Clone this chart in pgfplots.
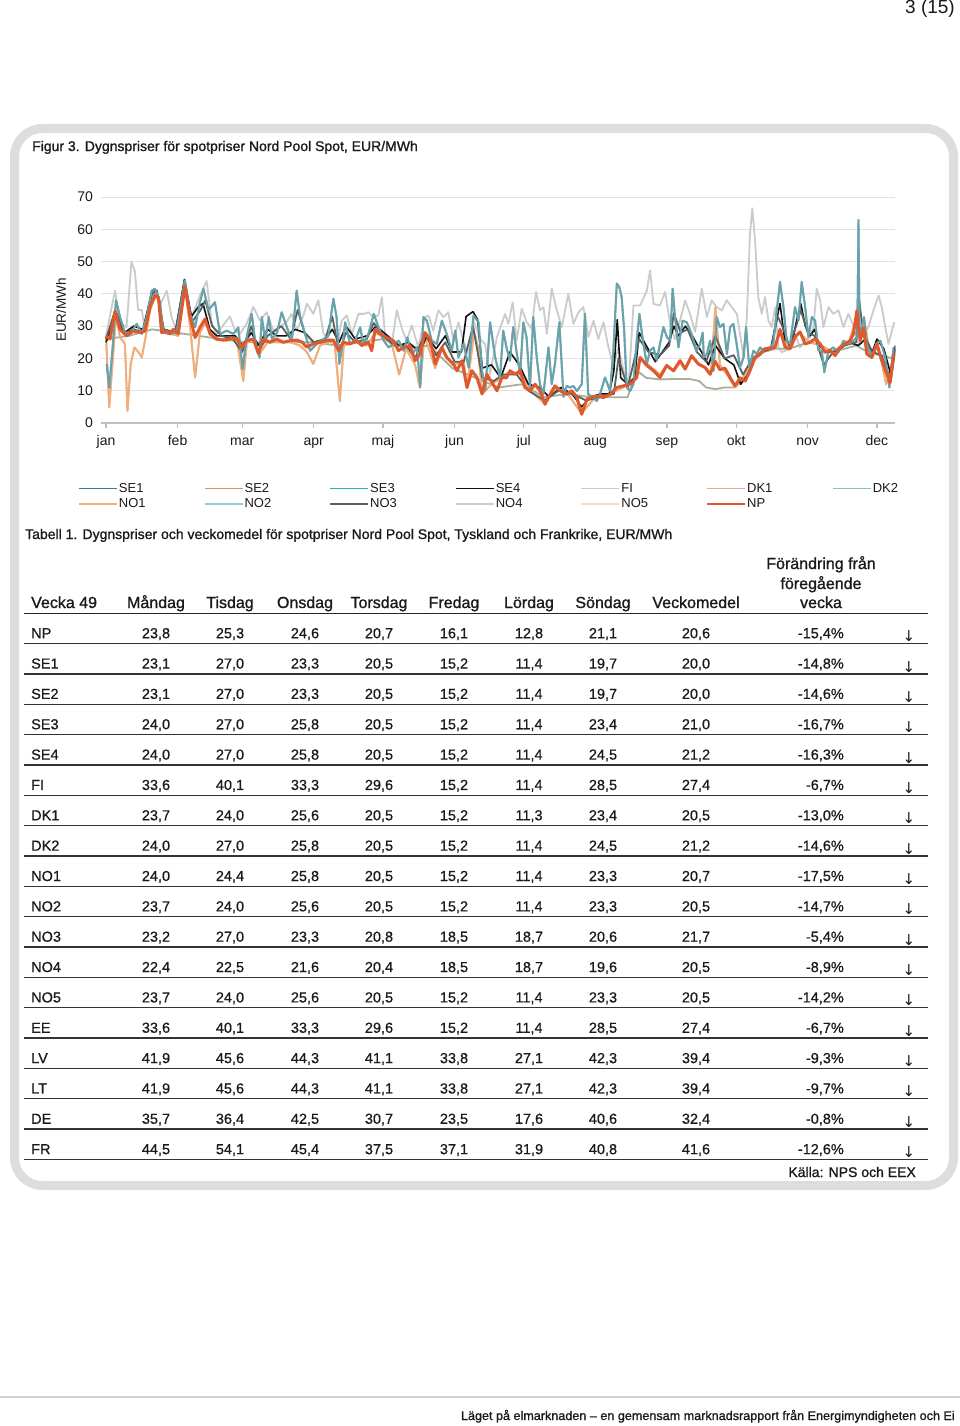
\documentclass[border=0pt]{standalone}
\usepackage{fontspec}
\setmainfont{Liberation Sans}
\newfontfamily\semib{Liberation Sans}[FakeBold=1.1]
\newfontfamily\medium{Liberation Sans}[FakeBold=0.6]
\newfontfamily\arrowfont{DejaVu Sans}
\usepackage{pgfplots}
\usepackage{pgfplotstable}
\pgfplotsset{compat=1.18}

\definecolor{cSEone}{HTML}{2A7F9E}
\definecolor{cSEtwo}{HTML}{E8914A}
\definecolor{cSEthree}{HTML}{2BB0C6}
\definecolor{cSEfour}{HTML}{111111}
\definecolor{cFI}{HTML}{CBCBCB}
\definecolor{cDKone}{HTML}{EBA593}
\definecolor{cDKtwo}{HTML}{7CC5C5}
\definecolor{cNOone}{HTML}{F1AE76}
\definecolor{cNOtwo}{HTML}{8ECFD6}
\definecolor{cNOthree}{HTML}{5A5F5F}
\definecolor{cNOfour}{HTML}{A9AD9C}
\definecolor{cNOfive}{HTML}{F4DCC8}
\definecolor{cNP}{HTML}{DE5A2E}
\definecolor{txt}{HTML}{1A1A1A}

% NP
\pgfplotstableread{
x y
0 27
1.7 26
3.9 34.5
6.1 29
8.9 27
11.8 28.5
14.7 28
16.9 28.5
19.1 36
21.2 39.5
22.7 39
24.1 28
26.3 28.5
27.7 27.6
29.2 29
31.3 27.6
34.2 42.5
36.4 32.8
38.6 26.5
40.7 29.6
42.9 32.2
45.1 27.6
47.9 26
50.8 25.7
53.7 26
56.6 26.3
58.8 23.4
60.9 25.5
63.8 26
66 21.6
68.2 26
71 25
73.9 26
76.8 25
79.7 25.5
82.6 25.7
85 25
87 23.5
89.8 24.5
92.7 25
95.6 25.5
98.5 25.7
100.7 22.4
102.8 25
105.7 24.5
108.6 25.5
110.8 24
113.7 25
115.1 22.4
116.6 29
118.7 27.6
121.6 26.5
124.5 25.5
126.7 22.4
128.8 23.4
131.7 24
133.9 19.3
136.1 21.4
138.2 28
140.4 26
142.6 18.3
145.5 23.4
147.6 20.3
150.5 18.3
152 16.2
154.2 19.3
156.4 11
158.5 16.2
160.7 14.1
162.9 9
165 15.1
167.2 12.5
169.4 10
171.5 14.1
173.5 14
175 16.2
177.2 15.1
179.4 16.2
181.5 11
183.7 10
185.9 12
188 10
190.2 5.8
192.4 8.9
194.5 11.5
196.7 10
199.6 8.9
201.8 10
204 7.9
206.1 2.7
208.3 7.4
210.4 7.9
212.6 8.4
215.5 7.9
218.4 8.9
221.3 11
224.2 11.5
227 12
229.9 14.1
231.4 20.3
234.3 17.8
237.2 16.2
240 14.1
242.9 17.8
245.8 16.2
248.7 19.3
250.9 16.7
253.7 20.8
256.6 18.3
259.5 17.2
261.7 15.1
263.9 19.1
266 16.5
268.2 17
270.4 14
272.5 11.5
274.7 14
276.9 13
279 16.2
281.2 20.3
283.4 21.4
285.5 23
287.7 23
289.9 23.5
292 29
294.2 23.5
296.4 23
298.5 26.6
300.7 28.2
302.9 24.5
305 25
307.2 26.1
309.4 24.5
311.5 21.9
313.7 22.4
315.9 20.9
318 23.5
320.2 24.5
322.4 25.5
323.8 27.6
325.3 34.8
326.7 25.5
328.2 29.5
329.6 21.4
331.8 20.3
334 24.5
336.1 19.3
338.3 15.1
339.7 12.5
341.2 21.4
}\dNP

% teal (SE1 / SE3 / DK2)
\pgfplotstableread{
x y
0.3 18.3
1.4 11
3 24.5
4.3 38
6.1 32.8
8.2 28
10.4 27.6
13.3 30.7
15.5 27.6
17.6 32.8
19.8 41
21.2 41.6
23.4 37.4
24.8 28
27.7 27.6
30.6 28
34.2 44.2
36.4 33.8
38.6 29.7
40.7 37.4
42.2 41.6
44.4 35
47.2 37.4
49.4 27.6
52.3 28.6
55.2 27.6
57.3 29.6
59.2 16.7
60.9 26.5
63.1 33.8
64.6 25.5
66.5 20.3
67.5 32.8
69 25.5
70.5 32.8
71.9 26
74.1 28
76.1 34.3
78.4 29.6
80.5 25.5
82.6 41
84 33.3
86.2 27.6
88.4 22.4
91.3 24.5
94.2 26
96.3 27
98.5 38.5
99.9 32.8
101.1 18.3
102.8 26
103.6 31.2
105.7 24.5
107.9 25.5
110.1 29.6
111.5 24.5
113.7 27.6
116 33.8
118.1 29.6
120.3 25.5
122.5 23.4
124.6 24.5
126.8 25.5
129 22.4
130.5 26.5
132.6 21.4
134.8 23.4
136.1 11
137.5 32.8
139 31.7
141.1 25.5
143.3 24.5
145.5 31.7
147.6 27.6
149.8 22.4
151.3 28.6
152.7 20.3
154.9 24.5
157.1 17.2
159.2 33.3
161.4 31.2
162.9 16.2
164.3 10
166.4 31.2
168.6 20.3
170.7 14
172.1 28.6
173.5 23.4
175 19.3
176.4 29.7
177.8 22.4
179.4 15.1
180.8 31.2
182.2 26.5
183.7 11
185.1 32.8
186.6 20.3
188 12
189.5 8.9
191.7 23.4
193.1 12
194.5 18.3
196.4 31.2
198.2 8.1
199.6 11.5
201.1 11
202.5 11.5
204 9.9
206.1 12
207.5 33.8
208.9 8.9
211.1 7.9
212.6 6.8
214 8.9
216.2 14.1
218.4 9.9
219.8 22.4
221.3 43.2
222.4 42.1
223.4 39
224.5 28.6
225.6 11
227.1 9.9
228.5 12
229.9 25.5
231.1 33.8
232.8 24.5
234.3 18.3
235.7 22.4
237.2 23.4
238.6 19.3
240 24.5
241.5 29.7
243 26.6
244.4 25.5
245.5 41.6
246.5 32.8
248 23.4
249.8 31.7
251.6 31.2
253.7 27.6
255.9 22.4
257.4 24.5
258.5 28
259 20.3
260.3 21.4
261.7 25.5
263.2 16.2
264.6 32.8
266 29.7
267.5 30.7
269 21.4
270.4 29.7
271.8 30.7
273.2 24.5
274.7 17.2
276.2 20.3
277.3 29.7
278.7 17.2
280.5 22.4
281.9 21.4
283.4 23.4
284.8 22.4
286.2 22.9
287.7 23.4
289.1 24.5
290.6 34.9
292 43.7
293.5 35.9
294.9 25.5
296.4 24.5
298.5 35.9
300 31.7
301.4 43.7
302.9 35.9
304.3 26.6
305.8 32.8
307.2 31.7
308.7 22.4
310.1 22.4
311.2 15.7
313 22.4
315.1 23.4
317.3 21.9
319.5 25.5
321.6 24.5
323.8 25.5
325.5 26.6
326 62.9
326.5 26.6
328.4 32.8
329.6 24.5
331.8 20.3
333.7 24.5
335.5 25.5
337.6 20.3
339.4 11
341.2 23.4
}\dTEAL

% FI
\pgfplotstableread{
x y
0 27
3.9 41
6.1 31
8.9 29.7
11 50
12.5 47
13.9 35
15.5 35
16.9 28.6
19.1 36
21.2 41
23.4 36.4
26.3 41
28.4 32.8
30.6 28.6
34.2 42
37.1 32.8
40.7 39.5
43.6 44
45.8 31
47.9 27.6
50.1 29.7
53.7 33
55.9 28.6
58 27.6
60.9 30.7
63.8 36
66.7 31.7
69.6 34.3
72.5 28.6
76.1 30.2
78.2 31.2
80.4 33.8
82.6 28.6
85.5 33.3
87 37
89.8 33.8
92 38
94.2 27.6
97 26
100 23.4
102.1 31.7
104.3 33.3
106.5 27.6
109.4 33.8
111.6 33.8
113.7 34.3
115.8 32.8
118 33.3
119.5 39
120.9 27.1
123.8 24.5
126 34.9
128.2 29.2
130.3 25.5
132.5 30.2
135.3 23.4
138.2 32.8
139.7 33.3
141.8 28.6
144 34.9
146.2 32.8
148.3 34.3
150.5 25.5
152.7 31.2
154.8 25.5
157 21.4
159.2 31.7
162.1 26
164.2 24.5
166.4 15.1
169.3 26.5
172.9 33.8
174.3 30.7
176.2 37.4
177.9 25.5
180.1 35.4
182.3 31.2
184.4 29.2
186.3 40.6
188 34.9
189.5 35.9
191 27.6
193.1 41.6
195.3 34.9
197.5 29.7
200.3 40
202.5 30.7
204.7 34.3
206.8 35.9
209 26.6
211.2 31.7
213.3 26
215.5 31.2
217.7 23.4
219.8 17.7
222 23.4
224.2 16.2
226.3 10.5
228.5 36.4
231.4 36.4
234.3 41
235.7 47.3
237.2 36.9
240 36.4
242.2 40.6
244.4 30.7
246.5 26
248.7 31.7
250.9 38
253 33.8
255.2 28.2
258.1 41.6
260.3 32.8
262.4 38
264.6 35.9
266.8 34.9
268.9 38
271.1 35.9
273.3 33.8
274.7 27.6
276.2 20.3
277.6 32.3
279 58.7
280 66.5
281.2 56.6
282.6 39
284.1 33.8
285.5 39
287 31.7
288.4 29.7
289.9 35.9
291.3 23.4
292.8 21.9
294.2 22.4
296.4 22.9
298.5 27.6
300.7 23.4
302.9 25.5
305 26.6
306.5 29.7
307.9 41.6
309.4 38
310.8 29.7
313 35.9
315.1 33.8
317.3 34.9
319.5 29.7
321.6 33.8
323.8 30.2
326 24.5
328.2 27.6
330.3 29.7
332.5 34.9
334.7 39.5
336.1 35.9
337.6 29.7
339 24.5
340.5 28.6
341.5 31.2
}\dFI

% SE4
\pgfplotstableread{
x y
0 25
4 33
8 28
12 30
16 29
20 41
22 41
25 29
30 28
34 44.5
37 33
40 36
42 37
45 29
48 27
52 27
56 27
59 24
63 28
66 24
70 29
74 27
78 27
82 29
86 28
90 25
95 26
98 29
101 25
104 30
108 26
113 27
117 30
122 27
127 24
131 25
136 22
139 27
143 23
147 27
150 22
154 22
156 33
159 34.5
161 32
163 17
167 18
171 14
175 22
179 18
183 12
188 11
192 8
197 11
202 9
206 5
210 8
214 9
218 9
220 16
221.5 32
223 14
226 12
229 14
231 28
234 24
238 19
241 22
244 25
246 30
248 27
251 30
254 27
258 22
261 18
264 24
268 20
272 18
275 12
278 15
281 20
284 22
288 23
290 30
292 37
294 26
297 24
299 31
301 37
303 30
305 27
307 29
309 24
312 22
315 22
318 23
322 25
326 24
329 26
332 22
334 26
337 23
340 15
342 24
}\dSEfour

% NO1 / DK1
\pgfplotstableread{
x y
0 27
1.4 4.8
3 20.3
4.3 33
6.1 26.5
8.2 24.5
9.3 3.7
10.7 18.3
12.3 23.4
14 22
15.5 20.3
17 26
19.1 35
21.2 39
23 38
24.1 28
28 27.6
31.3 27
34.2 42
36.4 30
38.6 14.1
40.7 28
43 31
47 26
52 25.5
56.6 26
59.5 13
61 25
64 26
66 21
70 25
76 25
80 25
84 24
87 22
89.8 18.3
92.7 24
96 25
99 25
101.3 6.8
103 24
108 25
113 24
116.6 28
121.6 26
124 24
127 15
130 23
133.9 18
136 11
138 27
142.6 17
145.5 23
150 18
155 19
156.4 11
159.5 28
161 24
163 9
167 12
171.5 14
175 16
180 15
184 10
190 6
195 11
200 9
206 3
212 8
218 9
224 11
229 14
231.4 20
235 18
240 15
243 18
246 16
249 19
251 16.7
253.7 21
257 18
260 17
262 15
264 35.9
266 18
270 14
272.5 11
276 14
281 20
285 23
290 24
292 28
296 23
300 28
305 25
310 24
314 22
318 23.5
322 25.5
325.3 33
327 27
329 30
331 21
334 24
336 19
338 12
341 20
}\dNOone

% NO3
\pgfplotstableread{
x y
0 26
4 35
8 28
12 29
16 28
20 40
22 41
25 29
30 28
34 44
37 31
41 35
43 38
46 30
50 27
55 26
59 22
63 30
66 22
70 27
76 30
80 26
83 35
86 28
90 25
95 26
98 33
101 22
104 28
108 25
113 26
116 31
120 27
125 24
130 24
134 20
138 28
143 21
147 25
151 19
155 19
159 30
163 14
168 13
172 15
178 15
183 10
190 7
196 10
202 9
208 7
214 8
220 9
222 20
226 11
231 26
235 22
240 21
244 24
246 34
249 28
252 29
256 22
260 19
264 27
268 20
272 21
276 15
280 20
284 22
288 23
291 33
293 30
296 24
299 30
301 35
304 28
307 27
311 18
315 22
320 24
325 25
326 40
328 28
332 22
336 21
340 13
342 23
}\dNOthree

% NO4
\pgfplotstableread{
x y
0 26
10 27
20 29
30 28
40 27
50 26
60 25
70 25
80 25
90 25
100 24
110 25
120 26
130 23
140 24
150 17
160 14
170 11
180 12
190 8
200 9
210 8
220 8
226 8
230 16.2
234 14
240 13.5
245 13.6
249 13.6
253 13.6
257 13
260 11
264 10.5
268 11
272 11
276 13
280 19
285 22
290 23
296 23
300 24
305 25
310 24
315 22
320 23
325 24
330 22
335 21
341 20
}\dNOfour

\newcommand\trow[9]{\def\ri{#1}\def\rn{#2}\def\va{#3}\def\vb{#4}\def\vc{#5}\def\vd{#6}\def\ve{#7}\def\vf{#8}\def\vg{#9}\trowB}
\newcommand\trowB[2]{%
  \def\vh{#1}\def\vp{#2}%
  \pgfmathsetmacro\ry{638.2+30.35*(\ri-1)}%
  \node[anchor=base west] at (31,\ry) {\rn};
  \foreach \cx/\v in {156/\va,230/\vb,305/\vc,379/\vd,454/\ve,529/\vf,603/\vg,696/\vh}{\node[anchor=base] at (\cx,\ry) {\v};}
  \node[anchor=base east] at (844,\ry) {\vp};
  \node[anchor=base, font=\arrowfont\fontsize{15}{17}\selectfont] at (909,\ry+3.5) {↓};
  \draw[black!80, line width=1.3] (24,\ry+5.3) -- (928,\ry+5.3);
}

\begin{document}
\begin{tikzpicture}
\path[use as bounding box, fill=white] (0pt,0pt) rectangle (960pt,-1426pt);

\begin{axis}[
  at={(101.4pt,-423pt)}, anchor=south west,
  scale only axis, width=794pt, height=226pt,
  xmin=-2, xmax=342, ymin=0, ymax=70,
  xtick={0,31,59,90,120,151,181,212,243,273,304,334},
  xticklabels={jan,feb,mar,apr,maj,jun,jul,aug,sep,okt,nov,dec},
  ytick={0,10,20,30,40,50,60,70},
  ymajorgrids, grid style={draw=gray!22, line width=1pt},
  axis x line*=bottom, axis y line*=left,
  y axis line style={draw=none},
  x axis line style={draw=gray!50, line width=1.2pt},
  xtick style={draw=gray!50, line width=1.2pt},
  ytick style={draw=none},
  major tick length=5pt, tick align=outside,
  ticklabel style={font=\fontsize{14}{16}\selectfont, text=txt},
  xticklabel style={text height=10.5pt, text depth=3pt, yshift=-3pt},
  /pgf/number format/assume math mode=true,
  ylabel={EUR/MWh},
  ylabel style={at={(axis description cs:-0.0509,0.5)}, anchor=center, font=\fontsize{13.5}{16}\selectfont, text=txt},
  legend columns=7,
  legend cell align=left,
  legend style={draw=none, fill=none, at={(axis description cs:-0.0295,-0.261)}, anchor=north west,
    font=\fontsize{13}{15}\selectfont, inner sep=0pt, row sep=3pt,
    nodes={inner sep=1pt, text=txt},
    /tikz/every even column/.append style={column sep=3.8pt}},
  legend image code/.code={\draw[#1] (0pt,0pt) -- (38pt,0pt);},
  line join=round,
]
% plots, drawn in z-order
\addplot[forget plot, cFI, line width=1.8pt] table[x=x,y=y] {\dFI};
\addplot[forget plot, cNOfour, line width=1.8pt] table[x=x,y=y] {\dNOfour};
\addplot[forget plot, cNOfive, line width=1.6pt] table[x=x,y=y] {\dNP};
\addplot[forget plot, cNOtwo, line width=1.6pt] table[x=x,y=y] {\dNP};
\addplot[forget plot, cSEtwo, line width=1.6pt] table[x=x,y=y] {\dNP};
\addplot[forget plot, cDKone, line width=1.8pt] table[x=x,y=y] {\dNOone};
\addplot[forget plot, cNOone, line width=1.8pt] table[x=x,y=y] {\dNOone};
\addplot[forget plot, cSEfour, line width=1.6pt] table[x=x,y=y] {\dSEfour};
\addplot[forget plot, cNOthree, line width=1.8pt] table[x=x,y=y] {\dNOthree};
\addplot[forget plot, cSEone, line width=1.9pt] table[x=x,y=y] {\dTEAL};
\addplot[forget plot, cDKtwo, line width=1.9pt, opacity=0.45] table[x=x,y=y] {\dTEAL};
\addplot[forget plot, cNOfour, line width=1.9pt, opacity=0.3] table[x=x,y=y] {\dTEAL};
\addplot[forget plot, cNP, line width=3pt] table[x=x,y=y] {\dNP};
% legend
\addlegendimage{cSEone, line width=1.8pt}\addlegendentry{\makebox[80pt][l]{SE1}}
\addlegendimage{cSEtwo, line width=1.8pt}\addlegendentry{\makebox[80pt][l]{SE2}}
\addlegendimage{cSEthree, line width=1.8pt}\addlegendentry{\makebox[80pt][l]{SE3}}
\addlegendimage{cSEfour, line width=1.8pt}\addlegendentry{\makebox[80pt][l]{SE4}}
\addlegendimage{cFI, line width=1.8pt}\addlegendentry{\makebox[80pt][l]{FI}}
\addlegendimage{cDKone, line width=1.8pt}\addlegendentry{\makebox[80pt][l]{DK1}}
\addlegendimage{cDKtwo, line width=1.8pt}\addlegendentry{\makebox[80pt][l]{DK2}}
\addlegendimage{cNOone, line width=1.8pt}\addlegendentry{\makebox[80pt][l]{NO1}}
\addlegendimage{cNOtwo, line width=1.8pt}\addlegendentry{\makebox[80pt][l]{NO2}}
\addlegendimage{cNOthree, line width=1.8pt}\addlegendentry{\makebox[80pt][l]{NO3}}
\addlegendimage{cNOfour!60, line width=1.8pt}\addlegendentry{\makebox[80pt][l]{NO4}}
\addlegendimage{cNOfive, line width=1.8pt}\addlegendentry{\makebox[80pt][l]{NO5}}
\addlegendimage{cNP, line width=2pt}\addlegendentry{\makebox[80pt][l]{NP}}
\end{axis}

\begin{scope}[x=1pt, y=-1pt, every node/.style={inner sep=0pt, text=txt}]
  % frame
  \draw[line width=9pt, draw=gray!27, rounded corners=28pt] (14.5,128.5) rectangle (953.5,1185.5);
  % page number
  \node[anchor=base east, font=\fontsize{19}{21}\selectfont] at (955,14) {3 (15)};
  % titles
  \node[anchor=base west, font=\semib\fontsize{14}{16}\selectfont] at (32,151) {Figur 3. Dygnspriser för spotpriser Nord Pool Spot, EUR/MWh};
  \node[anchor=base west, font=\semib\fontsize{14}{16}\selectfont] at (25,539) {Tabell 1. Dygnspriser och veckomedel för spotpriser Nord Pool Spot, Tyskland och Frankrike, EUR/MWh};
  % table header
  \begin{scope}[every node/.style={inner sep=0pt, text=txt, font=\semib\fontsize{16}{19}\selectfont}]
    \node[anchor=base west] at (31,608) {Vecka 49};
    \node[anchor=base] at (156,608) {Måndag};
    \node[anchor=base] at (230,608) {Tisdag};
    \node[anchor=base] at (305,608) {Onsdag};
    \node[anchor=base] at (379,608) {Torsdag};
    \node[anchor=base] at (454,608) {Fredag};
    \node[anchor=base] at (529,608) {Lördag};
    \node[anchor=base] at (603,608) {Söndag};
    \node[anchor=base] at (696,608) {Veckomedel};
    \node[anchor=base] at (821,569) {Förändring från};
    \node[anchor=base] at (821,589) {föregående};
    \node[anchor=base] at (821,608) {vecka};
  \end{scope}
  \draw[black!85, line width=1.6] (24,613.5) -- (928,613.5);
  \begin{scope}[every node/.style={inner sep=0pt, text=txt, font=\medium\fontsize{14.5}{17}\selectfont}]
    \trow{1}{NP}{23,8}{25,3}{24,6}{20,7}{16,1}{12,8}{21,1}{20,6}{-15,4\%}
    \trow{2}{SE1}{23,1}{27,0}{23,3}{20,5}{15,2}{11,4}{19,7}{20,0}{-14,8\%}
    \trow{3}{SE2}{23,1}{27,0}{23,3}{20,5}{15,2}{11,4}{19,7}{20,0}{-14,6\%}
    \trow{4}{SE3}{24,0}{27,0}{25,8}{20,5}{15,2}{11,4}{23,4}{21,0}{-16,7\%}
    \trow{5}{SE4}{24,0}{27,0}{25,8}{20,5}{15,2}{11,4}{24,5}{21,2}{-16,3\%}
    \trow{6}{FI}{33,6}{40,1}{33,3}{29,6}{15,2}{11,4}{28,5}{27,4}{-6,7\%}
    \trow{7}{DK1}{23,7}{24,0}{25,6}{20,5}{15,2}{11,3}{23,4}{20,5}{-13,0\%}
    \trow{8}{DK2}{24,0}{27,0}{25,8}{20,5}{15,2}{11,4}{24,5}{21,2}{-14,6\%}
    \trow{9}{NO1}{24,0}{24,4}{25,8}{20,5}{15,2}{11,4}{23,3}{20,7}{-17,5\%}
    \trow{10}{NO2}{23,7}{24,0}{25,6}{20,5}{15,2}{11,4}{23,3}{20,5}{-14,7\%}
    \trow{11}{NO3}{23,2}{27,0}{23,3}{20,8}{18,5}{18,7}{20,6}{21,7}{-5,4\%}
    \trow{12}{NO4}{22,4}{22,5}{21,6}{20,4}{18,5}{18,7}{19,6}{20,5}{-8,9\%}
    \trow{13}{NO5}{23,7}{24,0}{25,6}{20,5}{15,2}{11,4}{23,3}{20,5}{-14,2\%}
    \trow{14}{EE}{33,6}{40,1}{33,3}{29,6}{15,2}{11,4}{28,5}{27,4}{-6,7\%}
    \trow{15}{LV}{41,9}{45,6}{44,3}{41,1}{33,8}{27,1}{42,3}{39,4}{-9,3\%}
    \trow{16}{LT}{41,9}{45,6}{44,3}{41,1}{33,8}{27,1}{42,3}{39,4}{-9,7\%}
    \trow{17}{DE}{35,7}{36,4}{42,5}{30,7}{23,5}{17,6}{40,6}{32,4}{-0,8\%}
    \trow{18}{FR}{44,5}{54,1}{45,4}{37,5}{37,1}{31,9}{40,8}{41,6}{-12,6\%}
    \node[anchor=base east, font=\semib\fontsize{14}{16}\selectfont] at (916,1177) {Källa: NPS och EEX};
  \end{scope}
  % footer
  \draw[gray!35, line width=2pt] (0,1397) -- (960,1397);
  \node[anchor=base east, font=\semib\fontsize{12.6}{15}\selectfont] at (955,1420) {Läget på elmarknaden – en gemensam marknadsrapport från Energimyndigheten och Ei};
\end{scope}
\end{tikzpicture}
\end{document}
